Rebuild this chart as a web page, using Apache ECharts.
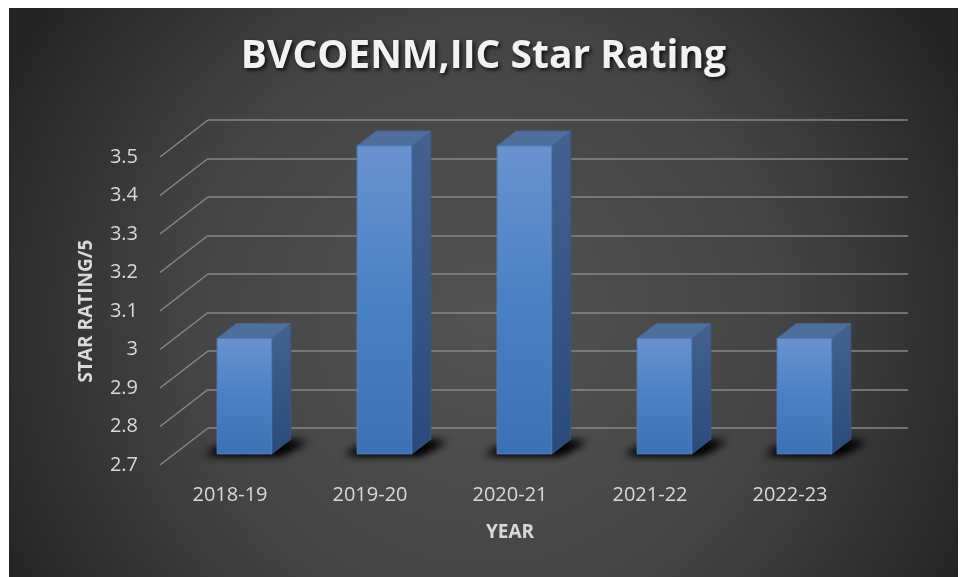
<!DOCTYPE html>
<html>
<head>
<meta charset="utf-8">
<title>BVCOENM,IIC Star Rating</title>
<script src="https://cdn.jsdelivr.net/npm/echarts@6/dist/echarts.min.js"></script>
<style>
  html, body { margin: 0; padding: 0; background: #fff; }
  #chart { position: absolute; left: 9px; top: 8px; width: 949px; height: 569px; }
</style>
</head>
<body>
<div id="chart"></div>
<script>
const categories = ['2018-19', '2019-20', '2020-21', '2021-22', '2022-23']
const ratings = [3, 3.5, 3.5, 3, 3]
const yTicks = [2.7, 2.8, 2.9, 3, 3.1, 3.2, 3.3, 3.4, 3.5]

// oblique depth of the floor / back wall
const DX = 48
const DY = -37
const F0 = 0.3 // bar front face depth fraction
const F1 = 0.7 // bar back face depth fraction
const BAR_RATIO = 0.39
const SHADOW_SHIFT = 3000 // draw the floor shadow off-canvas, only its blur lands here

const FONT = '"Open Sans", "Noto Sans", sans-serif'
const TEXT = '#d9d9d9'

const front = { left: 151, right: 98, top: 149, bottom: 112 }
const back = {
  left: front.left + DX,
  right: front.right - DX,
  top: front.top + DY,
  bottom: front.bottom - DY
}

const chart = echarts.init(document.getElementById('chart'))

function renderBar(params, api) {
  const cat = api.value(0)
  const top = api.coord([cat, api.value(1)])
  const base = api.coord([cat, yTicks[0]])
  const w = api.size([1, 0])[0] * BAR_RATIO
  const ox = DX * F0
  const oy = DY * F0
  const sdx = DX * (F1 - F0)
  const sdy = DY * (F1 - F0)
  const x0 = top[0] - w / 2 + ox
  const x1 = x0 + w
  const ty = top[1] + oy
  const by = base[1] + oy
  const s = SHADOW_SHIFT
  const shadowStyle = {
    fill: '#000',
    shadowBlur: 9,
    shadowColor: 'rgba(0,0,0,1)',
    shadowOffsetX: s,
    shadowOffsetY: 0
  }
  return {
    type: 'group',
    children: [
      {
        type: 'polygon',
        shape: { points: [
          [x0 - 14 - s, by + 1], [x1 + 10 - s, by + 1],
          [x1 + sdx + 18 - s, by + sdy + 2], [x0 + sdx - 4 - s, by + sdy + 2]
        ] },
        style: shadowStyle
      },
      {
        type: 'polygon',
        shape: { points: [
          [x0 - 10 - s, by], [x1 + 6 - s, by],
          [x1 + sdx + 12 - s, by + sdy + 3], [x0 + sdx - s, by + sdy + 3]
        ] },
        style: shadowStyle
      },
      {
        type: 'polygon',
        shape: { points: [[x1, ty], [x1 + sdx, ty + sdy], [x1 + sdx, by + sdy], [x1, by]] },
        style: {
          fill: { type: 'linear', x: 0, y: 0, x2: 0, y2: 1, colorStops: [
            { offset: 0, color: '#43628f' }, { offset: 1, color: '#2a4b7a' }
          ] },
          stroke: '#3a5886', lineWidth: 1
        }
      },
      {
        type: 'polygon',
        shape: { points: [[x0, ty], [x1, ty], [x1 + sdx, ty + sdy], [x0 + sdx, ty + sdy]] },
        style: { fill: '#4f6e9b', stroke: '#48679a', lineWidth: 1 }
      },
      {
        type: 'rect',
        shape: { x: x0, y: ty, width: w, height: by - ty },
        style: {
          fill: { type: 'linear', x: 0, y: 0, x2: 0, y2: 1, colorStops: [
            { offset: 0, color: '#6a93cf' }, { offset: 0.5, color: '#4a80c5' }, { offset: 1, color: '#3d71b6' }
          ] },
          stroke: '#4f7dbd', lineWidth: 1
        }
      }
    ]
  }
}

function renderDiagonal(params, api) {
  const p = api.coord([0, api.value(0)])
  const x = params.coordSys.x
  return {
    type: 'line',
    shape: { x1: x, y1: p[1], x2: x + DX, y2: p[1] + DY },
    style: { stroke: '#878787', lineWidth: 1.5 }
  }
}

chart.setOption({
  backgroundColor: {
    type: 'radial', x: 0.5, y: 0.55, r: 0.95,
    colorStops: [
      { offset: 0, color: '#535353' },
      { offset: 0.55, color: '#444444' },
      { offset: 1, color: '#242424' }
    ]
  },
  title: {
    text: 'BVCOENM,IIC Star Rating',
    left: 'center',
    top: 24,
    textStyle: {
      fontFamily: FONT,
      fontSize: 39,
      fontWeight: 'bold',
      color: '#f2f2f2',
      textShadowColor: 'rgba(0,0,0,0.8)',
      textShadowBlur: 4,
      textShadowOffsetX: 2,
      textShadowOffsetY: 2
    }
  },
  grid: [
    Object.assign({}, front),
    Object.assign({}, back)
  ],
  xAxis: [
    {
      type: 'category',
      gridIndex: 0,
      data: categories,
      axisLine: { show: false },
      axisTick: { show: false },
      axisLabel: { color: TEXT, fontFamily: FONT, fontSize: 20, margin: 20 },
      name: 'YEAR',
      nameLocation: 'middle',
      nameGap: 58,
      nameTextStyle: { color: TEXT, fontFamily: FONT, fontSize: 19, fontWeight: 'bold' }
    },
    {
      type: 'category',
      gridIndex: 1,
      data: categories,
      show: false
    }
  ],
  yAxis: [
    {
      type: 'value',
      gridIndex: 0,
      min: yTicks[0],
      max: yTicks[yTicks.length - 1],
      interval: 0.1,
      axisLine: { show: false },
      axisTick: { show: false },
      splitLine: { show: false },
      axisLabel: { color: TEXT, fontFamily: FONT, fontSize: 20, margin: 22 },
      name: 'STAR RATING/5',
      nameLocation: 'middle',
      nameGap: 64,
      nameTextStyle: { color: TEXT, fontFamily: FONT, fontSize: 19, fontWeight: 'bold' }
    },
    {
      type: 'value',
      gridIndex: 1,
      min: yTicks[0],
      max: yTicks[yTicks.length - 1],
      interval: 0.1,
      axisLine: { show: false },
      axisTick: { show: false },
      axisLabel: { show: false },
      splitLine: { show: true, lineStyle: { color: '#878787', width: 1.5 } }
    }
  ],
  series: [
    {
      type: 'custom',
      name: 'floor',
      xAxisIndex: 0,
      yAxisIndex: 0,
      silent: true,
      renderItem: renderDiagonal,
      data: yTicks.map(v => [v])
    },
    {
      type: 'custom',
      name: 'Star Rating',
      xAxisIndex: 0,
      yAxisIndex: 0,
      renderItem: renderBar,
      data: ratings.map((v, i) => [i, v]),
      z: 3
    }
  ]
})
</script>
</body>
</html>
